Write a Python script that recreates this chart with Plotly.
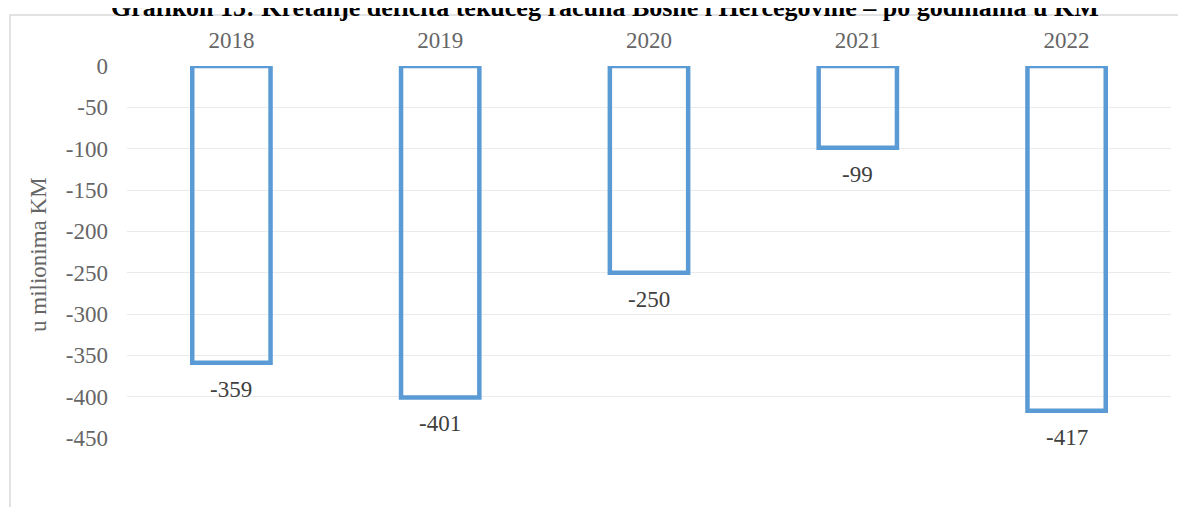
import plotly.graph_objects as go

years = ["2018", "2019", "2020", "2021", "2022"]
deficit = [-359, -401, -250, -99, -417]
y_ticks = [0, -50, -100, -150, -200, -250, -300, -350, -400, -450]
title_text = "Grafikon 15: Kretanje deficita tekućeg računa Bosne i Hercegovine – po godinama u KM"
y_title = "u milionima KM"

W, H = 1186, 507
OFF = 8  # page body margin offset
# plot area in screenshot pixels
PX0, PX1, PY0, PY1 = 127, 1171, 66, 438
L = PX0 - OFF
T = PY0 - OFF
R = W - (PX1 - OFF)
B = H - (PY1 - OFF)
pw = PX1 - PX0
ph = PY1 - PY0

def px_x(p):
    return (p - PX0) / pw

def px_y(p):
    return (PY1 - p) / ph

FONT = "Liberation Serif"

fig = go.Figure()
fig.add_trace(go.Bar(
    x=list(range(len(years))), y=deficit,
    marker=dict(color="rgba(255,255,255,0)", line=dict(color="#5B9BD5", width=4.5)),
    width=0.375,
    hoverinfo="y",
))

for i, v in enumerate(deficit):
    fig.add_annotation(x=i, y=v, text=str(v), showarrow=False, yanchor="top",
                       yshift=-12, font=dict(family=FONT, size=23, color="#404040"))

fig.add_annotation(xref="paper", yref="paper", x=px_x(38), y=px_y(255), text=y_title,
                   textangle=-90, showarrow=False, xanchor="center", yanchor="middle",
                   font=dict(family=FONT, size=23, color="#666666"))

fig.add_annotation(xref="paper", yref="paper", x=px_x(605), y=px_y(8), text="<b>" + title_text + "</b>",
                   showarrow=False, yanchor="middle", xanchor="center",
                   font=dict(family=FONT, size=26, color="black"))

fig.add_shape(type="rect", xref="paper", yref="paper",
              x0=px_x(10), x1=px_x(1200), y0=px_y(530), y1=px_y(15),
              line=dict(color="#D9D9D9", width=1.5), fillcolor="rgba(0,0,0,0)", layer="below")

fig.update_layout(
    width=W, height=H,
    margin=dict(l=L, r=R, t=T, b=B, autoexpand=False),
    paper_bgcolor="white", plot_bgcolor="white",
    showlegend=False,
    xaxis=dict(side="top", range=[-0.5, len(years) - 0.5], automargin=False,
               tickvals=list(range(len(years))), ticktext=years,
               tickfont=dict(family=FONT, size=23, color="#666666"),
               showgrid=False, showline=False, zeroline=False, ticks="",
               ticklabelstandoff=12),
    yaxis=dict(range=[-450, 0], tickvals=y_ticks, ticktext=[str(t) for t in y_ticks],
               automargin=False,
               tickfont=dict(family=FONT, size=23, color="#666666"),
               showgrid=True, gridcolor="#EBEBEB", gridwidth=1.3, zeroline=False, showline=False,
               ticks="", ticklabelstandoff=18),
)

fig.write_html("out.html")
